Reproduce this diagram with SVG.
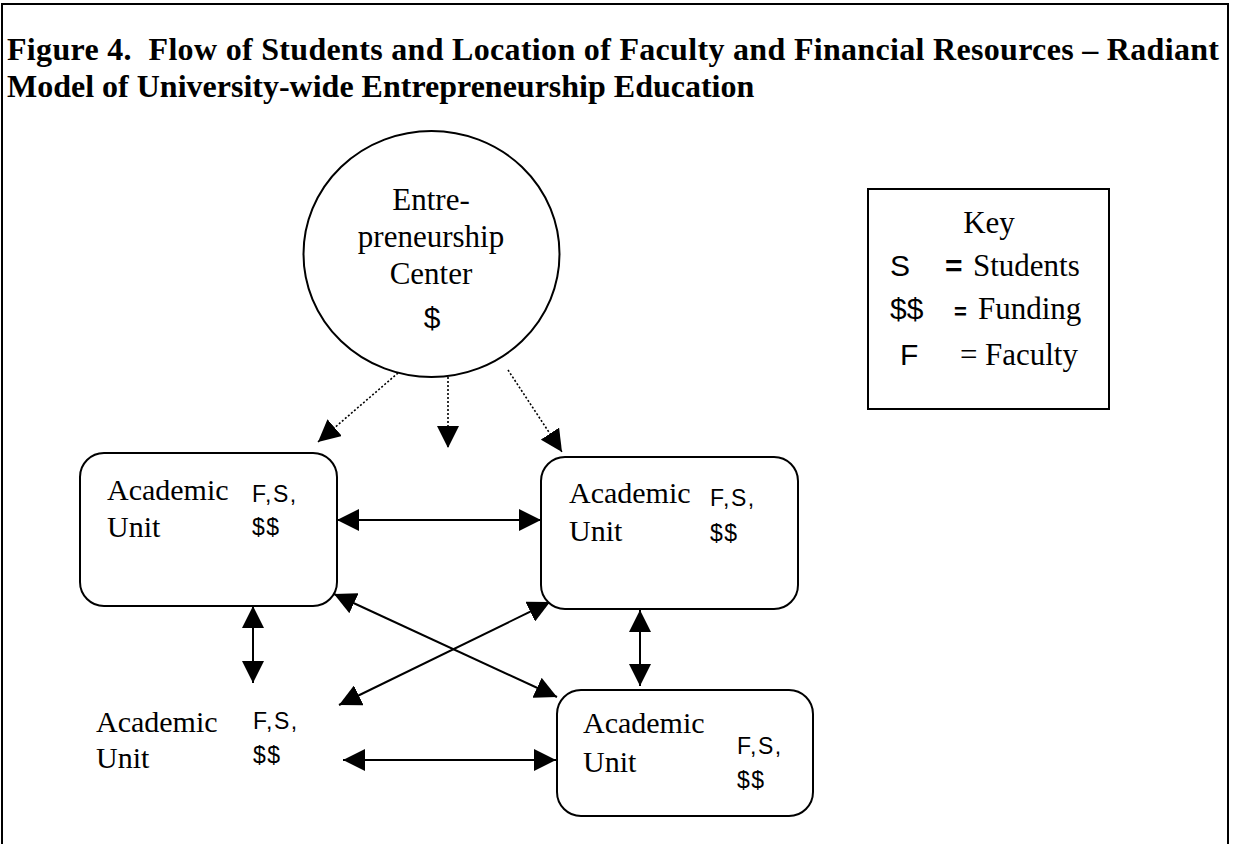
<svg xmlns="http://www.w3.org/2000/svg" width="1233" height="844" viewBox="0 0 1233 844">
<style>
.t{font-family:"Liberation Serif","Times New Roman",serif;fill:#000}
.a{font-family:"Liberation Sans",Arial,sans-serif;fill:#000}
.title{font-weight:bold;font-size:32px}
.lbl{font-size:30px}
.sm{font-size:23px;letter-spacing:1.5px}
.box{fill:#fff;stroke:#000;stroke-width:2}
.solid{stroke:#000;stroke-width:2;fill:none;marker-start:url(#ah);marker-end:url(#ah)}
.dot{stroke:#000;stroke-width:1.6;stroke-dasharray:2 2;fill:none;marker-end:url(#ah)}
</style>
<defs>
<marker id="ah" markerUnits="userSpaceOnUse" markerWidth="22" markerHeight="22" viewBox="0 0 20 20" refX="20" refY="10" orient="auto-start-reverse">
<path d="M0,0 L20,10 L0,20 Z" fill="#000"/>
</marker>
</defs>
<rect width="1233" height="844" fill="#fff"/>
<path d="M2,850 V4 H1228 V850" fill="none" stroke="#000" stroke-width="2"/>
<g id="title">
<text class="t title" xml:space="preserve" x="7" y="60" textLength="1212" lengthAdjust="spacing">Figure 4.  Flow of Students and Location of Faculty and Financial Resources – Radiant</text>
<text class="t title" x="7" y="97">Model of University-wide Entrepreneurship Education</text>
</g>
<g id="connectors">
<line class="dot" x1="398" y1="373" x2="318" y2="442"/>
<line class="dot" x1="448" y1="377" x2="448" y2="448"/>
<line class="dot" x1="508" y1="370" x2="562" y2="452"/>
<line class="solid" x1="337" y1="520" x2="541" y2="520"/>
<line class="solid" x1="253" y1="606" x2="253" y2="683"/>
<line class="solid" x1="640" y1="610" x2="640" y2="686"/>
<line class="solid" x1="334" y1="594" x2="557" y2="697"/>
<line class="solid" x1="550" y1="602" x2="339" y2="705"/>
<line class="solid" x1="343" y1="760" x2="556" y2="760"/>
</g>
<g id="center">
<ellipse cx="431.5" cy="254" rx="128" ry="123" fill="#fff" stroke="#000" stroke-width="2"/>
<text class="t" font-size="31" x="431" y="210" text-anchor="middle">Entre-</text>
<text class="t" font-size="31" x="431" y="247" text-anchor="middle">preneurship</text>
<text class="t" font-size="31" x="431" y="284" text-anchor="middle">Center</text>
<text class="a" font-size="30" x="432" y="328" text-anchor="middle">$</text>
</g>
<g id="key">
<rect x="868" y="189" width="241" height="220" fill="#fff" stroke="#000" stroke-width="2"/>
<text class="t" font-size="31" x="989" y="233" text-anchor="middle">Key</text>
<text class="a" font-size="30" x="890" y="276">S</text>
<text class="a" font-size="30" x="945" y="276" font-weight="bold">=</text>
<text class="t" font-size="31" x="973" y="276">Students</text>
<text class="a" font-size="30" x="890" y="319">$$</text>
<text class="a" font-size="22" x="954" y="319" font-weight="bold">=</text>
<text class="t" font-size="31" x="978" y="319">Funding</text>
<text class="a" font-size="30" x="900" y="365">F</text>
<text class="t" font-size="31" x="960" y="365">=</text>
<text class="t" font-size="31" x="985" y="365">Faculty</text>
</g>
<g id="unit1">
<rect class="box" x="80" y="453" width="257" height="153" rx="24"/>
<text class="t lbl" x="107" y="500">Academic</text>
<text class="t lbl" x="107" y="537">Unit</text>
<text class="a sm" x="252" y="502">F,S,</text>
<text class="a sm" x="252" y="535">$$</text>
</g>
<g id="unit2">
<rect class="box" x="541" y="457" width="257" height="152" rx="24"/>
<text class="t lbl" x="569" y="503">Academic</text>
<text class="t lbl" x="569" y="541">Unit</text>
<text class="a sm" x="710" y="506">F,S,</text>
<text class="a sm" x="710" y="541">$$</text>
</g>
<g id="unit3">
<rect class="box" x="557" y="690" width="256" height="126" rx="24"/>
<text class="t lbl" x="583" y="733">Academic</text>
<text class="t lbl" x="583" y="772">Unit</text>
<text class="a sm" x="737" y="754">F,S,</text>
<text class="a sm" x="737" y="788">$$</text>
</g>
<g id="unit4">
<text class="t lbl" x="96" y="732">Academic</text>
<text class="t lbl" x="96" y="768">Unit</text>
<text class="a sm" x="253" y="729">F,S,</text>
<text class="a sm" x="253" y="763">$$</text>
</g>
</svg>
